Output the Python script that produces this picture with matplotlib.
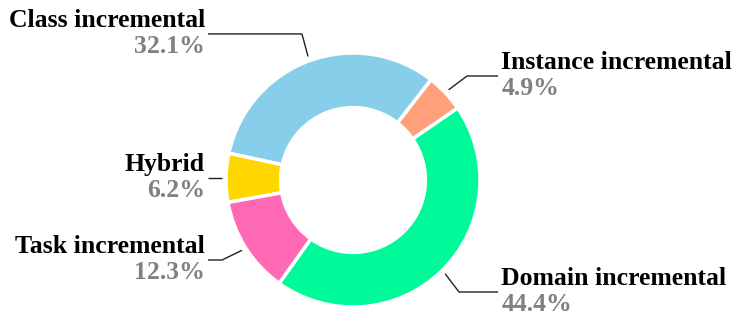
import numpy as np
import matplotlib.pyplot as plt

# 数据
labels = ["Instance incremental", "Class incremental", "Hybrid", "Task incremental", "Domain incremental"]
shares = [4.9, 32.1, 6.2, 12.3, 44.4]
colors = ["#FFA07A", "#87CEEB", "#FFD700", "#FF69B4", "#00FA9A"]

# 标注布局：横线高度、拐点x、横线终点x（数据坐标，半径=1）
# None 表示横线直接从扇区中点引出
line_y = [0.819, 1.150, None, -0.630, -0.882]
elbow_x = [0.898, -0.402, None, -1.031, 0.835]
end_x = [1.142, -1.142, -1.142, -1.142, 1.142]

plt.rcParams['font.family'] = ['Liberation Serif', 'DejaVu Serif']

fig = plt.figure(figsize=(7.42, 3.22), dpi=100)
ax = fig.add_axes([0, 0, 1, 1])

start = 34.5
wedges, _ = ax.pie(shares, colors=colors, startangle=start, counterclock=True,
                   radius=1, wedgeprops=dict(width=0.43, edgecolor='white', linewidth=2.5))

for i, w in enumerate(wedges):
    ang = np.deg2rad((w.theta1 + w.theta2) / 2)
    x0, y0 = 1.035 * np.cos(ang), 1.035 * np.sin(ang)
    ly = y0 if line_y[i] is None else line_y[i]
    ex = x0 if elbow_x[i] is None else elbow_x[i]
    ax.plot([x0, ex, end_x[i]], [y0, ly, ly],
            color='#222222', lw=1.0, solid_capstyle='butt')
    right = end_x[i] > 0
    tx = end_x[i] + (0.025 if right else -0.025)
    ha = 'left' if right else 'right'
    ax.text(tx, ly + 0.055, labels[i], ha=ha, va='baseline',
            fontsize=18.5, fontweight='bold', color='black')
    ax.text(tx, ly - 0.15, f"{shares[i]:.1f}%", ha=ha, va='baseline',
            fontsize=18.5, fontweight='bold', color='#808080')

ax.set_xlim(-353 / 127, (742 - 353) / 127)
ax.set_ylim(-(322 - 180) / 127, 180 / 127)
ax.set_aspect('equal')
ax.axis('off')

plt.savefig("out.png", dpi=100)
